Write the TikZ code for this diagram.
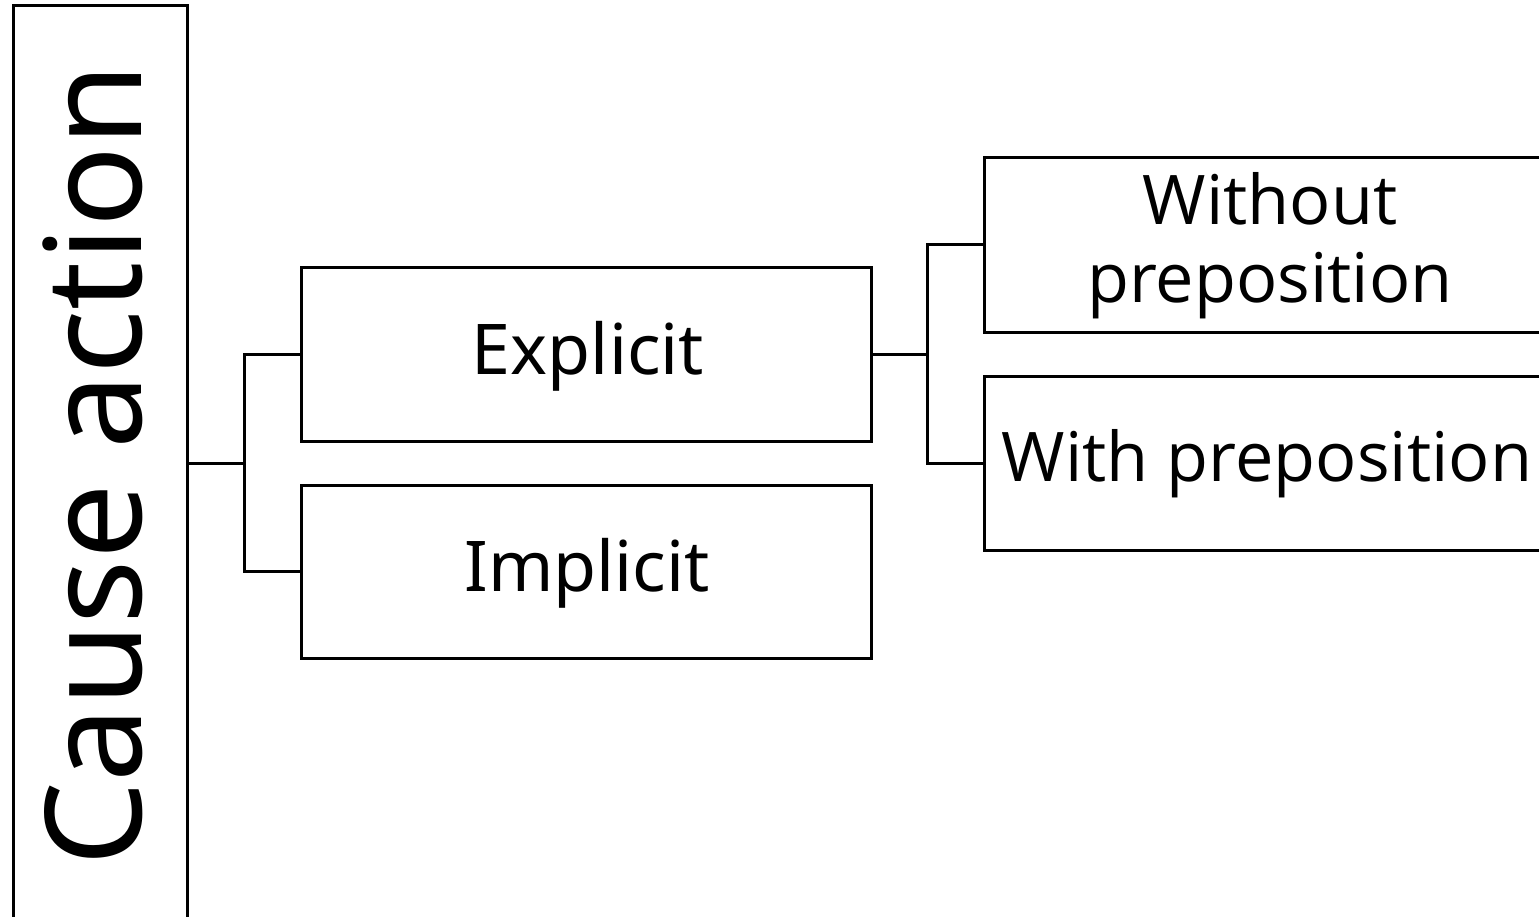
\documentclass[tikz,border=0pt]{standalone}
\usepackage{fontspec}
\setmainfont{Noto Sans}
\newfontfamily\boxfont{Open Sans}
\usetikzlibrary{calc}
\begin{document}
\begin{tikzpicture}[x=1pt,y=-1pt,
  frame/.style={draw=black,line width=3pt,rectangle,inner sep=0pt,outer sep=0pt,fill=white},
  link/.style={draw=black,line width=3pt,line join=miter},
  bigtxt/.style={font=\fontsize{134}{160}\selectfont,inner sep=0pt},
  midtxt/.style={font=\fontsize{70}{84}\selectfont,inner sep=0pt},
  sidetxt/.style={font=\boxfont\fontsize{68.5}{78}\selectfont,inner sep=0pt,align=center}]
\useasboundingbox (0,0) rectangle (1539,917);
\fill[white] (0,0) rectangle (1539,917);
% boxes (the outer column and the right-hand boxes run past the page edge)
\node[frame,minimum width=174pt,minimum height=930pt] (cause) at (100,471) {};
\node[frame,minimum width=570pt,minimum height=173pt] (explicit) at (586,354.5) {};
\node[frame,minimum width=570pt,minimum height=173pt] (implicit) at (586,571.5) {};
\node[frame,minimum width=590pt,minimum height=174pt] (without) at (1279,245) {};
\node[frame,minimum width=590pt,minimum height=174pt] (with) at (1279,463) {};
% labels
\node[bigtxt,rotate=90] (causetxt) at (93,465) {Cause action};
\node[midtxt] (explicittxt) at (588,356) {Explicit};
\node[midtxt] (implicittxt) at (587,573) {Implicit};
\node[sidetxt] (withouttxt) at (1270,246) {Without\\preposition};
\node[sidetxt] (withtxt) at (1267,464) {With preposition};
% connectors
\coordinate (j1) at ($(explicit.west)!0.5!(implicit.west)+(-57,0)$);
\coordinate (j2) at ($(without.west)!0.5!(with.west)+(-57,0)$);
\draw[link] (cause.east |- j1) -- (j1);
\draw[link] (explicit.west) -| (j1) |- (implicit.west);
\draw[link] (explicit.east) -- (explicit.east -| j2);
\draw[link] (without.west) -| (j2) |- (with.west);
\end{tikzpicture}
\end{document}
